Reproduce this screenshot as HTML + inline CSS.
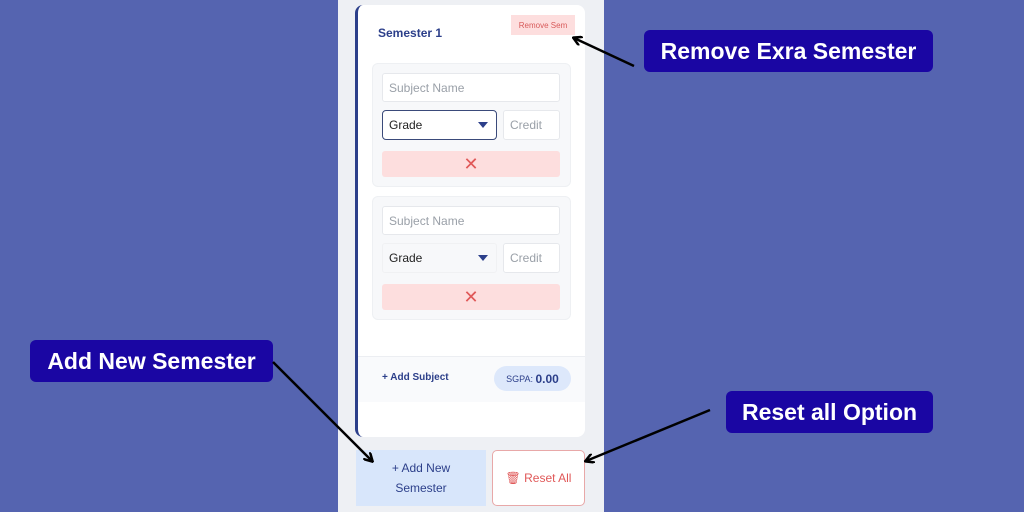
<!DOCTYPE html>
<html><head><style>
*{box-sizing:border-box;margin:0;padding:0}
body{width:1024px;height:512px;background:#5564b0;position:relative;overflow:hidden;font-family:"Liberation Sans",sans-serif}
.a{position:absolute}
.panel{left:338px;top:0;width:266px;height:512px;background:#eef0f4}
.card{left:355px;top:5px;width:230px;height:432px;background:#fff;border-left:3px solid #2c3f8a;border-radius:8px}
.grp{background:#f7f8fa;border:1px solid #eef0f3;border-radius:6px}
.inp{background:#fff;border:1px solid #e6e8ec;border-radius:3px;color:#9aa0a8;font-size:12px;padding-left:6px;display:flex;align-items:center}
.x{background:#fddede;border-radius:3px;color:#e05858;font-size:18px;display:flex;align-items:center;justify-content:center}
.lbl{background:#1a06a3;color:#fff;font-weight:bold;font-size:23px;border-radius:6px;display:flex;align-items:center;justify-content:center}
</style></head><body>
<div class="a panel"></div>
<div class="a card"></div>
<div class="a" style="left:378px;top:26px;font-size:12px;font-weight:bold;color:#2c3f8a">Semester 1</div>
<div class="a" style="left:511px;top:15px;width:64px;height:20px;background:#fddede;color:#d85a5a;font-size:8px;display:flex;align-items:center;justify-content:center">Remove Sem</div>

<div class="a grp" style="left:372px;top:63px;width:199px;height:124px"></div>
<div class="a inp" style="left:382px;top:73px;width:178px;height:29px">Subject Name</div>
<div class="a inp" style="left:382px;top:110px;width:115px;height:30px;border:1px solid #3a4a7a;border-radius:4px;color:#222">Grade<span style="position:absolute;right:8px;top:11px;border:5px solid transparent;border-top:6px solid #2c3f8a;border-bottom:0"></span></div>
<div class="a inp" style="left:503px;top:110px;width:57px;height:30px">Credit</div>
<div class="a x" style="left:382px;top:151px;width:178px;height:26px">✕</div>

<div class="a grp" style="left:372px;top:196px;width:199px;height:124px"></div>
<div class="a inp" style="left:382px;top:206px;width:178px;height:29px">Subject Name</div>
<div class="a inp" style="left:382px;top:243px;width:115px;height:30px;background:#f7f8fa;border-color:#f0f1f3;color:#222">Grade<span style="position:absolute;right:8px;top:11px;border:5px solid transparent;border-top:6px solid #2c3f8a;border-bottom:0"></span></div>
<div class="a inp" style="left:503px;top:243px;width:57px;height:30px">Credit</div>
<div class="a x" style="left:382px;top:284px;width:178px;height:26px">✕</div>

<div class="a" style="left:358px;top:356px;width:227px;height:1px;background:#eceef2"></div>
<div class="a" style="left:358px;top:357px;width:227px;height:45px;background:#f9fafc"></div>
<div class="a" style="left:382px;top:372px;font-size:10px;font-weight:bold;color:#2c3f8a">+ Add Subject</div>
<div class="a" style="left:494px;top:366px;width:77px;height:25px;background:#dde8fb;border-radius:13px;font-size:9px;color:#2c3f8a;display:flex;align-items:center;justify-content:center">SGPA:&nbsp;<b style="font-size:12px">0.00</b></div>

<div class="a" style="left:356px;top:450px;width:130px;height:56px;background:#d8e6fb;color:#2c3f8a;font-size:12px;text-align:center;line-height:20px;padding-top:8px">+ Add New<br>Semester</div>
<div class="a" style="left:492px;top:450px;width:93px;height:56px;background:#fff;border:1px solid #e8a8a8;border-radius:5px;color:#e05858;font-size:12px;display:flex;align-items:center;justify-content:center">🗑 Reset All</div>

<div class="a lbl" style="left:644px;top:30px;width:289px;height:42px">Remove Exra Semester</div>
<div class="a lbl" style="left:30px;top:340px;width:243px;height:42px">Add New Semester</div>
<div class="a lbl" style="left:726px;top:391px;width:207px;height:42px">Reset all Option</div>

<svg class="a" style="left:0;top:0" width="1024" height="512">
<defs><marker id="m" markerWidth="10" markerHeight="10" refX="8" refY="5" orient="auto" markerUnits="userSpaceOnUse"><path d="M0,0 L9,5 L0,10" fill="none" stroke="#000" stroke-width="2.5"/></marker></defs>
<g stroke="#000" stroke-width="2.5" fill="none" marker-end="url(#m)">
<line x1="634" y1="66" x2="574" y2="38"/>
<line x1="273" y1="362" x2="372" y2="461"/>
<line x1="710" y1="410" x2="586" y2="461"/>
</g></svg>
</body></html>
